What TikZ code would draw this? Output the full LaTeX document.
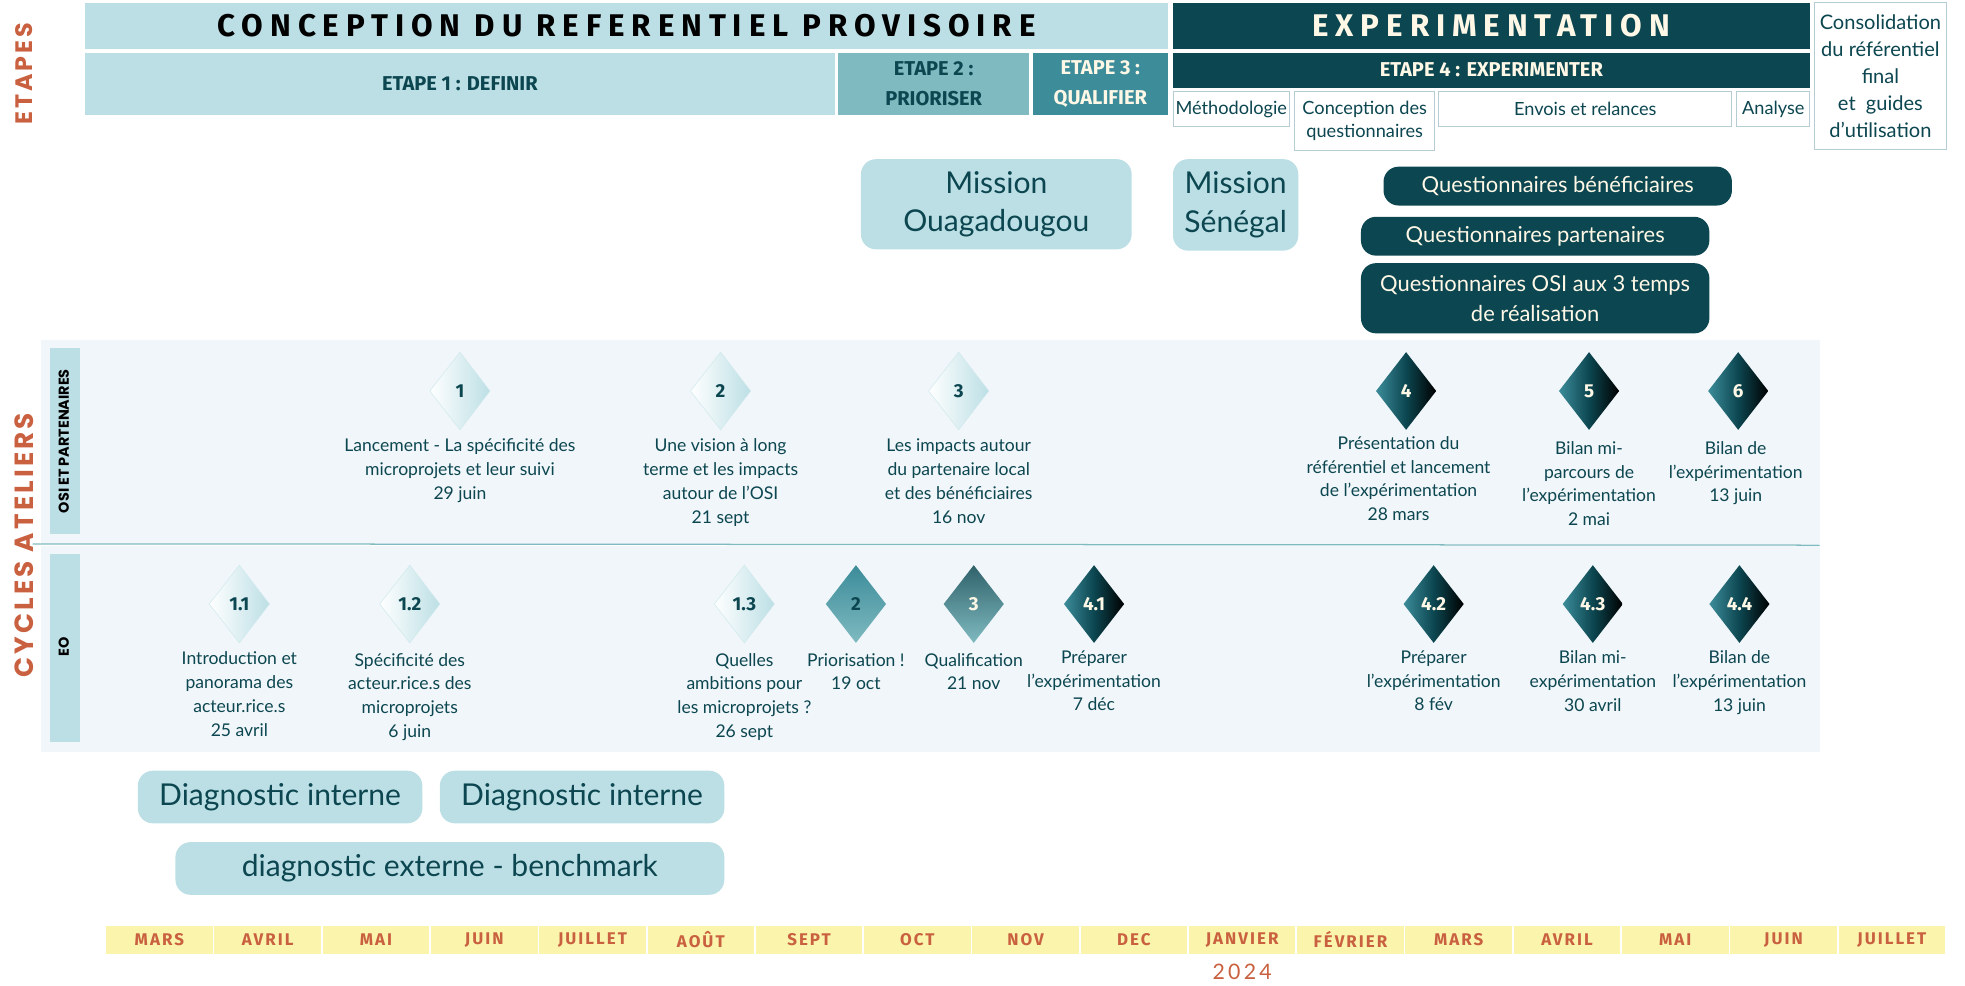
\documentclass[tikz,border=0pt]{standalone}
\usepackage{fontspec}
\setmainfont{Lato}
\newfontfamily\headfont{Fira Sans}
\newfontfamily\widefont{Poppins}
\usetikzlibrary{positioning,shapes.geometric}
\definecolor{pale}{HTML}{BCDFE5}
\definecolor{midteal}{HTML}{7FBAC0}
\definecolor{teal2}{HTML}{3C8C9A}
\definecolor{deep}{HTML}{0C4650}
\definecolor{cream}{HTML}{FFF8E7}
\definecolor{bandbg}{HTML}{F0F6F9}
\definecolor{rust}{HTML}{C9603F}
\definecolor{butter}{HTML}{FAF4AD}
\definecolor{edge}{HTML}{B5CDD2}
\tikzset{
  bar/.style={inner sep=0pt,outer sep=0pt,align=center,text=deep,font=\headfont\bfseries\fontsize{16}{24}\selectfont},
  outline/.style={bar,draw=edge,line width=0.8pt,fill=white,font=\fontsize{14.5}{19}\selectfont},
  pill/.style={bar,rounded corners=12pt,fill=pale,font=\fontsize{24}{31}\selectfont},
  darkpill/.style={pill,fill=deep,text=cream,font=\fontsize{17.5}{24}\selectfont},
  sidebar/.style={bar,fill=pale,text=black,font=\widefont\bfseries\fontsize{11.5}{12}\selectfont},
  sidetitle/.style={inner sep=0pt,rotate=90,text=rust},
  monthbox/.style={bar,fill=butter,text=rust,minimum width=85pt,minimum height=22pt,
    font=\headfont\bfseries\fontsize{13.5}{15}\selectfont\addfontfeatures{LetterSpace=12}},
  desc/.style={inner sep=0pt,align=center,text=deep,font=\fontsize{14}{19}\selectfont},
  gem/.style={diamond,inner sep=0pt,outer sep=0pt,minimum width=48pt,minimum height=62pt,
    font=\headfont\bfseries\fontsize{15}{16}\selectfont},
  gemlight/.style={gem,draw=pale!70,line width=0.4pt,left color=white,right color=pale,text=deep},
  gemteal/.style={gem,top color=teal2,bottom color=midteal,text=deep},
  gemgrey/.style={gem,top color=deep!85,bottom color=midteal,text=cream},
  gemdark/.style={gem,left color=teal2,right color=black,middle color=deep,text=cream}
}
\newcommand*{\atelier}[6]
  {\node[#2] (#1) at (#3) {#4};
   \node[desc,below=7pt of #1,#5] (#1text) {#6}}

\begin{document}
\begin{tikzpicture}[x=1pt,y=-1pt]
\useasboundingbox (0,0) rectangle (1568,786);
\node[bar,fill=pale,text=black,minimum width=864pt,minimum height=37pt,font=\headfont\bfseries\fontsize{25}{28}\selectfont\addfontfeatures{LetterSpace=22}] (conception) at (500,20.5) {CONCEPTION DU REFERENTIEL PROVISOIRE};
\node[bar,fill=deep,text=cream,minimum width=508pt,minimum height=37pt,font=\headfont\bfseries\fontsize{25}{28}\selectfont\addfontfeatures{LetterSpace=22}] (experimentation) at (1190,20.5) {EXPERIMENTATION};
\node[bar,fill=pale,minimum width=598pt,minimum height=50pt] (etapeA) at (367,67) {ETAPE 1 : DEFINIR};
\node[bar,fill=midteal,minimum width=152pt,minimum height=50pt] (etapeB) at (745,67) {ETAPE 2 :\\PRIORISER};
\node[bar,fill=teal2,text=cream,minimum width=108pt,minimum height=50pt] (etapeC) at (878,67) {ETAPE 3 :\\QUALIFIER};
\node[bar,fill=deep,text=cream,minimum width=508pt,minimum height=28pt] (etapeD) at (1190,56) {ETAPE 4 : EXPERIMENTER};
\node[outline,minimum width=93pt,minimum height=28pt] (methodo) at (982.5,87) {Méthodologie};
\node[outline,minimum width=112pt,minimum height=47pt] (concq) at (1089,96.5) {Conception des\\questionnaires};
\node[outline,minimum width=234pt,minimum height=28pt] (envois) at (1265,87) {Envois et relances};
\node[outline,minimum width=58pt,minimum height=28pt] (analyse) at (1415,87) {Analyse};
\node[outline,minimum width=105pt,minimum height=117pt,font=\fontsize{16}{21.5}\selectfont] (consol) at (1500.5,60.5) {Consolidation\\du référentiel\\final\\et~ guides\\d’utilisation};
\node[sidetitle,font=\widefont\bfseries\fontsize{19}{20}\selectfont\addfontfeatures{LetterSpace=12}] (etapes) at (19,59) {ETAPES};
\node[sidetitle,font=\widefont\bfseries\fontsize{21}{22}\selectfont\addfontfeatures{LetterSpace=12}] (cycles) at (19,435) {CYCLES ATELIERS};

\node[pill,minimum width=216pt,minimum height=72pt] (ouaga) at (795,163) {Mission\\Ouagadougou};
\node[pill,minimum width=100pt,minimum height=73pt] (senegal) at (986,163.5) {Mission\\Sénégal};
\node[darkpill,minimum width=278pt,minimum height=31pt] (qbenef) at (1243,148.5) {Questionnaires bénéficiaires};
\node[darkpill,minimum width=278pt,minimum height=31pt] (qpart) at (1225,188.5) {Questionnaires partenaires};
\node[darkpill,minimum width=278pt,minimum height=56pt] (qosi) at (1225,238) {Questionnaires OSI aux 3 temps\\de réalisation};

\fill[bandbg] (33,271) rectangle (1452,434);
\fill[bandbg] (33,436) rectangle (1452,600);
\draw[midteal,line width=1pt] (26,434) -- (1452,435);
\node[sidebar,minimum width=24pt,minimum height=148pt] (osibar) at (52,352) {};
\node[rotate=90,inner sep=0pt,text=black,font=\widefont\bfseries\fontsize{11.5}{12}\selectfont] (osilabel) at (51,352) {OSI ET PARTENAIRES};
\node[sidebar,minimum width=24pt,minimum height=150pt] (eobar) at (52,517) {};
\node[rotate=90,inner sep=0pt,text=black,font=\widefont\bfseries\fontsize{11.5}{12}\selectfont] (eolabel) at (51,516) {EO};

\atelier{osiA}{gemlight}{367,312}{1}{}{Lancement - La spécificité des\\microprojets et leur suivi\\29 juin};
\atelier{osiB}{gemlight}{575,312}{2}{}{Une vision à long\\terme et les impacts\\autour de l’OSI\\21 sept};
\atelier{osiC}{gemlight}{765,312}{3}{}{Les impacts autour\\du partenaire local\\et des bénéficiaires\\16 nov};
\atelier{osiD}{gemdark}{1122,312}{4}{xshift=-6pt,yshift=2pt}{Présentation du\\référentiel et lancement\\de l’expérimentation\\28 mars};
\atelier{osiE}{gemdark}{1268,312}{5}{yshift=-2pt}{Bilan mi-\\parcours de\\l’expérimentation\\2 mai};
\atelier{osiF}{gemdark}{1387,312}{6}{xshift=-2pt,yshift=-2pt}{Bilan de\\l’expérimentation\\13 juin};

\atelier{eoA}{gemlight}{191,482}{1.1}{}{Introduction et\\panorama des\\acteur.rice.s\\25 avril};
\atelier{eoB}{gemlight}{327,482}{1.2}{yshift=-1pt}{Spécificité des\\acteur.rice.s des\\microprojets\\6 juin};
\atelier{eoC}{gemlight}{594,482}{1.3}{yshift=-1pt}{Quelles\\ambitions pour\\les microprojets ?\\26 sept};
\atelier{eoD}{gemteal}{683,482}{2}{yshift=-1pt}{Priorisation !\\19 oct};
\atelier{eoE}{gemgrey}{777,482}{3}{yshift=-1pt}{Qualification\\21 nov};
\atelier{eoF}{gemdark}{873,482}{4.1}{yshift=1pt}{Préparer\\l’expérimentation\\7 déc};
\atelier{eoG}{gemdark}{1144,482}{4.2}{yshift=1pt}{Préparer\\l’expérimentation\\8 fév};
\atelier{eoH}{gemdark}{1271,482}{4.3}{yshift=1pt}{Bilan mi-\\expérimentation\\30 avril};
\atelier{eoI}{gemdark}{1388,482}{4.4}{yshift=1pt}{Bilan de\\l’expérimentation\\13 juin};

\node[pill,minimum width=227pt,minimum height=42pt] (diagA) at (223.5,636) {Diagnostic interne};
\node[pill,minimum width=227pt,minimum height=42pt] (diagB) at (464.5,636) {Diagnostic interne};
\node[pill,minimum width=438pt,minimum height=42pt] (diagext) at (359,693) {diagnostic externe - benchmark};

\foreach \m [count=\i from 0] in {MARS,AVRIL,MAI,JUIN,JUILLET,AOÛT,SEPT,OCT,NOV,DEC,JANVIER,FÉVRIER,MARS,AVRIL,MAI,JUIN,JUILLET}
  \node[monthbox] (month\i) at ({127.2+86.4*\i},750) {\m};
\node[inner sep=0pt,text=rust,font=\fontsize{17}{18}\selectfont\addfontfeatures{LetterSpace=15},below=8pt of month10] (year) {2024};
\end{tikzpicture}
\end{document}
